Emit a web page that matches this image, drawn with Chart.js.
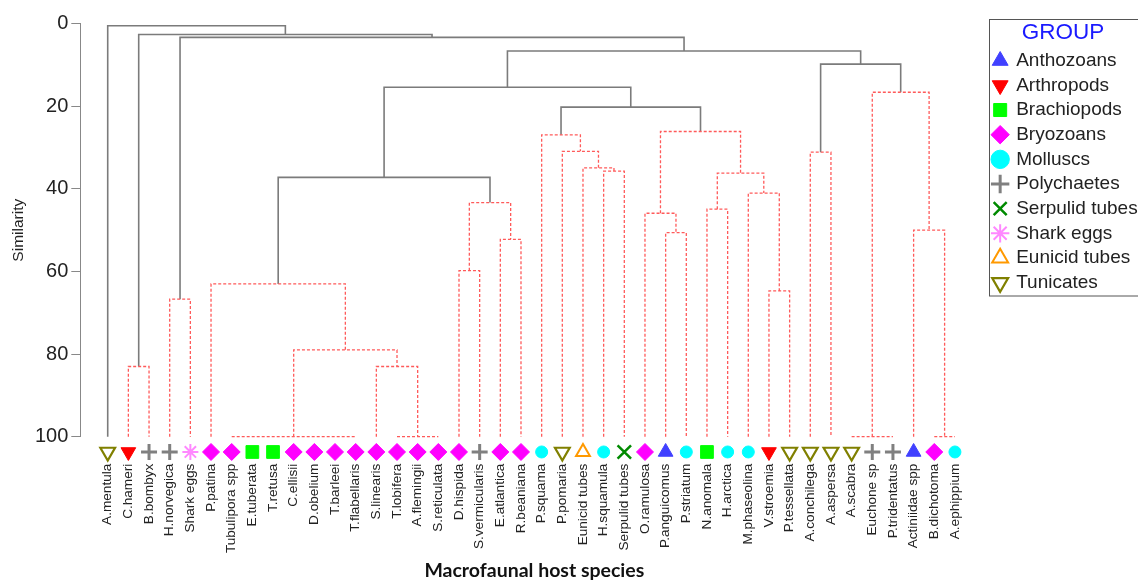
<!DOCTYPE html>
<html>
<head>
<meta charset="utf-8">
<script src="https://cdn.jsdelivr.net/npm/chart.js@4"></script>
<style>
  html, body { margin: 0; padding: 0; background: #fff; overflow: hidden; }
  #wrap { width: 1138px; height: 582px; }
</style>
</head>
<body>
<div id="wrap"><canvas id="dendro"></canvas></div>
<script>
// leaves, left to right
const leaves = [
    'A.mentula', 'C.hameri', 'B.bombyx', 'H.norvegica', 'Shark eggs', 'P.patina',
    'Tubulipora spp', 'E.tuberata', 'T.retusa', 'C.ellisii', 'D.obelium', 'T.barleei',
    'T.flabellaris', 'S.linearis', 'T.lobifera', 'A.flemingii', 'S.reticulata', 'D.hispida',
    'S.vermicularis', 'E.atlantica', 'R.beaniana', 'P.squama', 'P.pomaria', 'Eunicid tubes',
    'H.squamula', 'Serpulid tubes', 'O.ramulosa', 'P.anguicomus', 'P.striatum', 'N.anomala',
    'H.arctica', 'M.phaseolina', 'V.stroemia', 'P.tessellata', 'A.conchilega', 'A.aspersa',
    'A.scabra', 'Euchone sp', 'P.tridentatus', 'Actiniidae spp', 'B.dichotoma', 'A.ephippium'
];

const leafGroups = [
    'Tunicates', 'Arthropods', 'Polychaetes', 'Polychaetes', 'Shark eggs', 'Bryozoans',
    'Bryozoans', 'Brachiopods', 'Brachiopods', 'Bryozoans', 'Bryozoans', 'Bryozoans',
    'Bryozoans', 'Bryozoans', 'Bryozoans', 'Bryozoans', 'Bryozoans', 'Bryozoans',
    'Polychaetes', 'Bryozoans', 'Bryozoans', 'Molluscs', 'Tunicates', 'Eunicid tubes',
    'Molluscs', 'Serpulid tubes', 'Bryozoans', 'Anthozoans', 'Molluscs', 'Brachiopods',
    'Molluscs', 'Molluscs', 'Arthropods', 'Tunicates', 'Tunicates', 'Tunicates',
    'Tunicates', 'Polychaetes', 'Polychaetes', 'Anthozoans', 'Bryozoans', 'Molluscs'
];

const groupNames = [
    'Anthozoans', 'Arthropods', 'Brachiopods', 'Bryozoans', 'Molluscs',
    'Polychaetes', 'Serpulid tubes', 'Shark eggs', 'Eunicid tubes', 'Tunicates'
];

// merges: children are leaf indexes (0-41) or earlier merges (42 + k)
const mergeChildren = [
    [6, 7, 8, 9, 10, 11, 12], [14, 15, 16], [13, 43], [42, 44], [5, 45],
    [17, 18], [19, 20], [47, 48], [46, 49],
    [24, 25], [23, 51], [22, 52], [21, 53],
    [27, 28], [26, 55], [29, 30], [32, 33], [31, 58], [57, 59], [56, 60],
    [54, 61], [50, 62],
    [34, 35], [36, 37, 38], [40, 41], [39, 66], [65, 67], [64, 68],
    [63, 69], [3, 4], [71, 70], [1, 2], [73, 72], [0, 74]
];
const mergeLevels = [
    100, 100, 83, 79, 63,
    59.8, 52.2, 43.3, 37.2,
    35.7, 34.9, 30.9, 26.9,
    50.6, 45.9, 44.9, 64.7, 41, 36.2, 26.1,
    20.2, 15.4,
    31.1, 100, 100, 50, 16.6, 9.8,
    6.6, 66.7, 3.3, 83, 2.6, 0.5
];
const mergeSignificant = [
    false, false, false, false, false,
    false, false, false, true,
    false, false, false, false,
    false, false, false, false, false, false, false,
    true, true,
    false, false, false, false, false, true,
    true, false, true, false, true, true
];

const yTicks = [0, 20, 40, 60, 80, 100];

const groupStyle = {
    'Anthozoans':     { shape: 'triangle', rot: 0,   fill: '#4040ff', stroke: '#4040ff', bw: 1,   r: 8.5 },
    'Arthropods':     { shape: 'triangle', rot: 180, fill: '#ff0000', stroke: '#ff0000', bw: 1,   r: 8.5 },
    'Brachiopods':    { shape: 'rect',     rot: 0,   fill: '#00ff00', stroke: '#00ff00', bw: 1,   r: 9 },
    'Bryozoans':      { shape: 'rectRot',  rot: 0,   fill: '#ff00ff', stroke: '#ff00ff', bw: 1,   r: 8.5 },
    'Molluscs':       { shape: 'circle',   rot: 0,   fill: '#00ffff', stroke: '#00ffff', bw: 1,   r: 6 },
    'Polychaetes':    { shape: 'cross',    rot: 0,   fill: '#808080', stroke: '#808080', bw: 3,   r: 8 },
    'Serpulid tubes': { shape: 'crossRot', rot: 0,   fill: '#008a00', stroke: '#008a00', bw: 2.5, r: 9.5 },
    'Shark eggs':     { shape: 'star',     rot: 0,   fill: '#ff88ff', stroke: '#ff88ff', bw: 2,   r: 8 },
    'Eunicid tubes':  { shape: 'triangle', rot: 0,   fill: 'rgba(0,0,0,0)', stroke: '#ff9900', bw: 2,   r: 8 },
    'Tunicates':      { shape: 'triangle', rot: 180, fill: 'rgba(0,0,0,0)', stroke: '#808000', bw: 2.2, r: 8.5 }
};

const FONT = "'Liberation Sans', Arial, sans-serif";
const LEAF_LEVEL = 100;
const MARKER_LEVEL = 103.7;

// position of every node: leaves on the index, merges at the mean of their children
const nodeX = leaves.map((_, i) => i);
const nodeY = leaves.map(() => LEAF_LEVEL);
mergeChildren.forEach((kids, k) => {
    nodeX.push(kids.reduce((s, c) => s + nodeX[c], 0) / kids.length);
    nodeY.push(mergeLevels[k]);
});

const branchSets = mergeChildren.map((kids, k) => {
    const h = mergeLevels[k];
    const sorted = kids.slice().sort((a, b) => nodeX[a] - nodeX[b]);
    const first = sorted[0];
    const last = sorted[sorted.length - 1];
    const pts = [
        { x: nodeX[first], y: nodeY[first] },
        { x: nodeX[first], y: h },
        { x: nodeX[last], y: h },
        { x: nodeX[last], y: nodeY[last] }
    ];
    sorted.slice(1, -1).forEach(c => {
        if (nodeY[c] !== h) {
            pts.push({ x: nodeX[c], y: null }, { x: nodeX[c], y: nodeY[c] }, { x: nodeX[c], y: h });
        }
    });
    const sig = mergeSignificant[k];
    return {
        data: pts,
        showLine: true,
        spanGaps: false,
        borderColor: sig ? '#7b7b7b' : '#ff5a5a',
        borderWidth: sig ? 1.6 : 1.3,
        borderDash: sig ? [] : [3, 2],
        pointRadius: 0,
        fill: false,
        clip: false,
        order: 1
    };
});

const markerSets = groupNames.map(g => {
    const st = groupStyle[g];
    return {
        label: g,
        isMarker: true,
        data: leaves.map((_, i) => i)
            .filter(i => leafGroups[i] === g)
            .map(i => ({ x: i, y: MARKER_LEVEL })),
        pointStyle: st.shape,
        pointRotation: st.rot,
        rotation: st.rot,
        pointRadius: st.r,
        backgroundColor: st.fill,
        borderColor: st.stroke,
        borderWidth: st.bw,
        clip: false,
        order: 0
    };
});

// leaf markers hang below the axis end, outside the chart area, so the
// point elements are drawn again with the whole canvas as their area
const leafMarkers = {
    id: 'leafMarkers',
    afterDatasetsDraw(chart) {
        const area = { left: 0, top: 0, right: chart.width, bottom: chart.height };
        chart.data.datasets.forEach((ds, i) => {
            if (!ds.isMarker) return;
            chart.getDatasetMeta(i).data.forEach(pt => pt.draw(chart.ctx, area));
        });
    }
};

const legendBorder = {
    id: 'legendBorder',
    afterDraw(chart) {
        const lg = chart.legend;
        const ctx = chart.ctx;
        ctx.save();
        ctx.strokeStyle = '#555';
        ctx.lineWidth = 1;
        ctx.strokeRect(Math.round(lg.left) + 1.5, 19.5, 300, 276.5);
        ctx.restore();
    }
};

new Chart(document.getElementById('dendro'), {
    type: 'scatter',
    data: { datasets: [...markerSets, ...branchSets] },
    options: {
        responsive: true,
        maintainAspectRatio: false,
        animation: false,
        events: [],
        layout: { padding: { top: 23.7, left: 0, right: 0, bottom: 0 } },
        scales: {
            x: {
                type: 'linear',
                min: -1.307,
                max: 42.6,
                afterBuildTicks: s => { s.ticks = leaves.map((_, i) => ({ value: i })); },
                afterFit: s => { s.height = 145.3; },
                grid: { display: false, drawTicks: false },
                border: { display: false },
                ticks: {
                    autoSkip: false,
                    maxRotation: 90,
                    minRotation: 90,
                    padding: 27,
                    color: '#222',
                    font: { family: FONT, size: 13.6 },
                    callback: v => leaves[v]
                },
                title: {
                    display: true,
                    text: 'Macrofaunal host species',
                    color: '#111',
                    font: { family: "Lato, 'Open Sans', sans-serif", size: 19.5, weight: 'bold' },
                    padding: { top: 0, bottom: 0 }
                }
            },
            y: {
                reverse: true,
                min: 0,
                max: 100,
                afterBuildTicks: s => { s.ticks = yTicks.map(v => ({ value: v })); },
                afterFit: s => { s.width = 80.7; },
                grid: { drawOnChartArea: false, drawTicks: true, tickLength: 9.4, color: '#888' },
                border: { display: true, color: '#888', width: 1 },
                ticks: {
                    padding: 3,
                    color: '#222',
                    font: { family: FONT, size: 20 }
                },
                title: {
                    display: true,
                    text: 'Similarity',
                    color: '#222',
                    font: { family: FONT, size: 15.5 },
                    padding: { top: 9, bottom: 0 }
                }
            }
        },
        plugins: {
            tooltip: { enabled: false },
            legend: {
                position: 'right',
                align: 'start',
                maxWidth: 150,
                title: {
                    display: true,
                    text: 'GROUP',
                    color: '#1a1aff',
                    font: { family: FONT, size: 22.5, lineHeight: 1 },
                    padding: { top: -2.25, bottom: 1.6 }
                },
                labels: {
                    usePointStyle: true,
                    boxWidth: 13,
                    boxHeight: 13,
                    padding: 5.66,
                    color: '#222',
                    font: { family: FONT, size: 19 },
                    filter: item => groupNames.includes(item.text)
                }
            }
        }
    },
    plugins: [leafMarkers, legendBorder]
});
</script>
</body>
</html>
